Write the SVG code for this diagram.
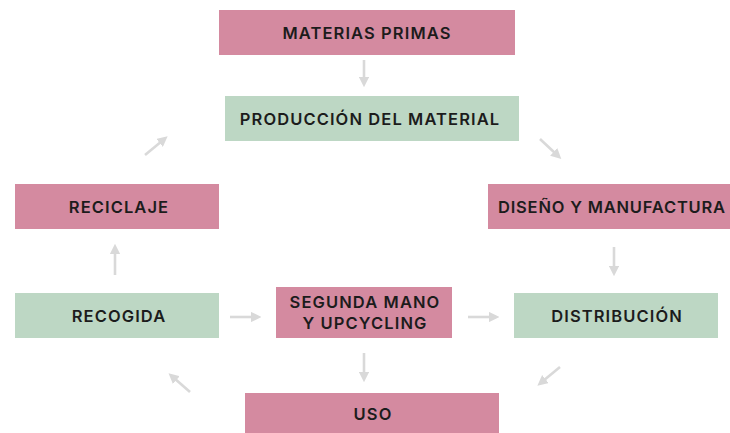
<svg xmlns="http://www.w3.org/2000/svg" width="730" height="433" viewBox="0 0 730 433">
<defs>
<marker id="ah" markerWidth="4" markerHeight="4" refX="1.2" refY="2" orient="auto" markerUnits="strokeWidth">
<path d="M0,0 L4,2 L0,4 z" fill="#d9d9d9"/>
</marker>
<style>
.pink{fill:#d48aa0}
.green{fill:#bdd7c4}
.t{font-family:Inter,"Open Sans","Liberation Sans",sans-serif;font-weight:600;font-size:16.5px;fill:#1c1c1c;text-anchor:middle;dominant-baseline:central;letter-spacing:1.1px}
.c line{stroke:#d9d9d9;stroke-width:2.6;marker-end:url(#ah)}
</style>
</defs>
<rect width="730" height="433" fill="#ffffff"/>
<g id="materias"><rect class="pink" x="219" y="10" width="296" height="45"/><text class="t" x="367" y="33">MATERIAS PRIMAS</text></g>
<g id="produccion"><rect class="green" x="225" y="96" width="294" height="45"/><text class="t" x="370" y="119">PRODUCCIÓN DEL MATERIAL</text></g>
<g id="diseno"><rect class="pink" x="488" y="184" width="260" height="45"/><text class="t" x="498" y="207" style="text-anchor:start;letter-spacing:0.8px">DISEÑO Y MANUFACTURA</text></g>
<g id="reciclaje"><rect class="pink" x="15" y="184" width="204" height="45"/><text class="t" x="119" y="207">RECICLAJE</text></g>
<g id="recogida"><rect class="green" x="15" y="293" width="204" height="45"/><text class="t" x="119" y="316">RECOGIDA</text></g>
<g id="segunda"><rect class="pink" x="276" y="287" width="176" height="51"/><text class="t" x="365" y="302">SEGUNDA MANO</text><text class="t" x="365" y="323">Y UPCYCLING</text></g>
<g id="distribucion"><rect class="green" x="514" y="293" width="204" height="45"/><text class="t" x="617" y="316">DISTRIBUCIÓN</text></g>
<g id="uso"><rect class="pink" x="245" y="393" width="254" height="42"/><text class="t" x="373" y="414">USO</text></g>
<g id="connectors" class="c">
<line x1="364" y1="60" x2="364" y2="80"/>
<line x1="540" y1="139" x2="556" y2="154"/>
<line x1="614" y1="247" x2="614" y2="269"/>
<line x1="560" y1="367" x2="543" y2="381"/>
<line x1="364" y1="353" x2="364" y2="375"/>
<line x1="468" y1="317" x2="492" y2="317"/>
<line x1="230" y1="317" x2="254" y2="317"/>
<line x1="190" y1="392" x2="174" y2="378"/>
<line x1="115" y1="275" x2="115" y2="251"/>
<line x1="145" y1="155" x2="162" y2="141"/>
</g>
</svg>
